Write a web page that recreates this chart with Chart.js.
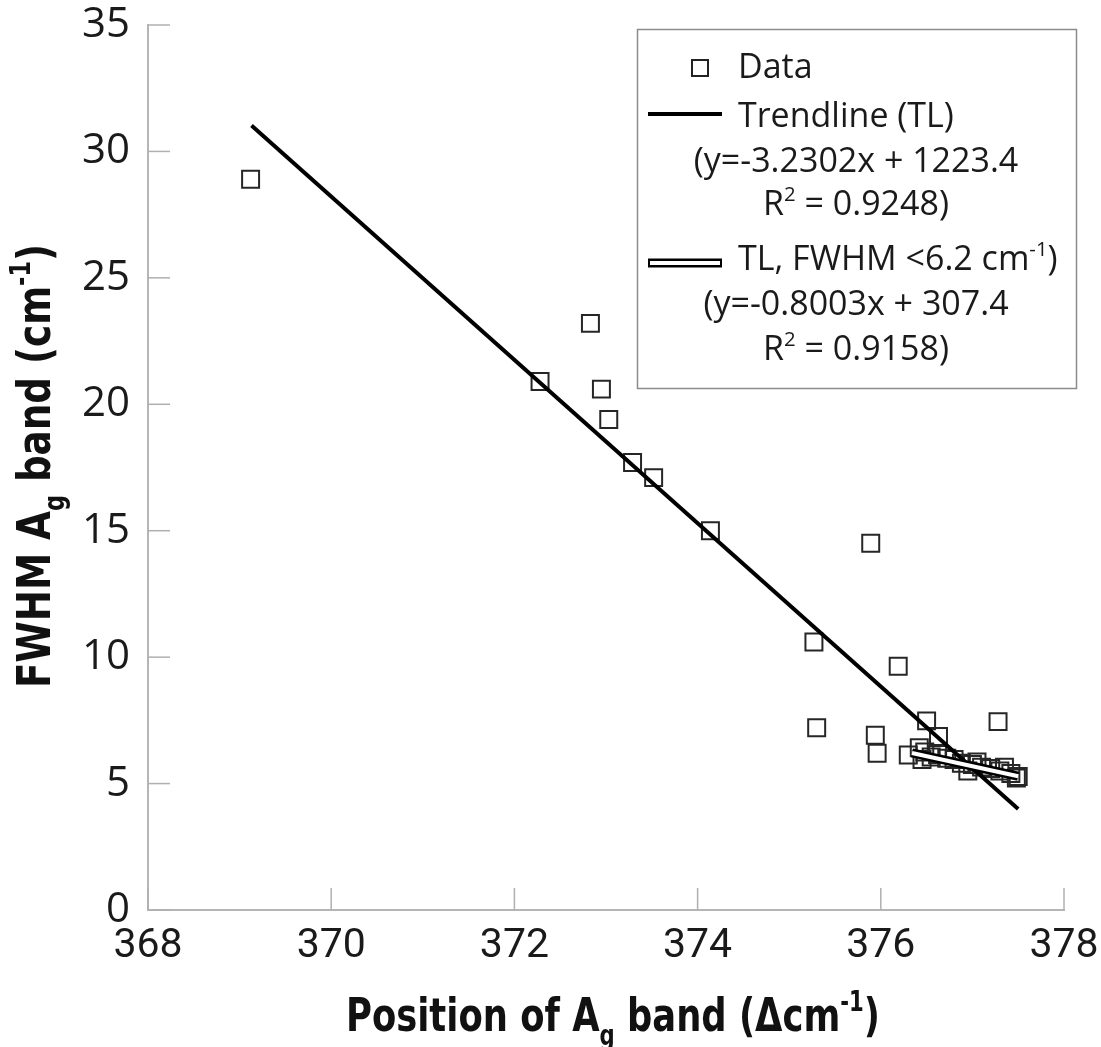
<!DOCTYPE html>
<html>
<head>
<meta charset="utf-8">
<script src="https://cdn.jsdelivr.net/npm/chart.js@4.4.0/dist/chart.umd.min.js"></script>
<style>
  body { margin: 0; background: #fff; }
  #wrap { width: 1101px; height: 1047px; }
</style>
</head>
<body>
<div id="wrap"><canvas id="fwhmChart"></canvas></div>
<script>
// measured points: position of Ag band vs FWHM
const positions = [369.12, 372.28, 372.83, 372.95, 373.03, 373.29, 373.52, 374.14, 375.27, 375.30,
  375.89, 375.94, 375.96, 376.19, 376.50, 376.63, 377.28,
  376.30, 376.42, 376.48, 376.55, 376.45, 376.62, 376.72, 376.80, 376.88, 376.95,
  377.00, 377.05, 377.10, 377.20, 377.30, 377.35, 377.42, 377.50, 377.48];
const fwhm = [28.9, 20.9, 23.2, 20.6, 19.4, 17.7, 17.1, 15.0, 10.6, 7.21,
  14.5, 6.91, 6.20, 9.64, 7.48, 6.86, 7.45,
  6.13, 6.42, 6.25, 6.05, 5.95, 6.15, 6.00, 5.95, 5.80, 5.50,
  5.75, 5.85, 5.65, 5.60, 5.50, 5.65, 5.40, 5.28, 5.22];

// trendline end points (all data, and FWHM < 6.2 only)
const trendX = [369.13, 377.50];
const trendY = [31.03, 3.99];
const trendLowX = [376.34, 377.50];
const trendLowY = [6.21, 5.29];

const xTicks = [368, 370, 372, 374, 376, 378];
const yTicks = [0, 5, 10, 15, 20, 25, 30, 35];

const toXY = (xs, ys) => xs.map((v, i) => ({ x: v, y: ys[i] }));

const TXT_FONT = "'Open Sans', 'DejaVu Sans', sans-serif";
const NARROW = "'Liberation Sans Narrow', 'DejaVu Sans Condensed', 'Liberation Sans', sans-serif";

// draws text made of runs ({t, sup, sub}) starting at x (or centred on x)
function drawRuns(ctx, runs, x, y, size, weight, family, center) {
  const fontOf = r => weight + ' ' + ((r.sup || r.sub) ? size * 0.6 : size) + 'px ' + family;
  let total = 0;
  runs.forEach(r => { ctx.font = fontOf(r); r.w = ctx.measureText(r.t).width; total += r.w; });
  let cx = center ? x - total / 2 : x;
  runs.forEach(r => {
    ctx.font = fontOf(r);
    let dy = 0;
    if (r.sup) dy = -size * 0.42;
    if (r.sub) dy = size * 0.3;
    ctx.fillText(r.t, cx, y + dy);
    cx += r.w;
  });
  return total;
}

function measureRuns(ctx, runs, size, weight, family) {
  let total = 0;
  runs.forEach(r => {
    ctx.font = weight + ' ' + ((r.sup || r.sub) ? size * 0.6 : size) + 'px ' + family;
    total += ctx.measureText(r.t).width;
  });
  return total;
}

// tick marks pointing into the plot
const innerTicks = {
  id: 'innerTicks',
  beforeDatasetsDraw(chart) {
    const { ctx, chartArea, scales: { x, y } } = chart;
    ctx.save();
    ctx.strokeStyle = '#b0b0b0';
    ctx.lineWidth = 1.5;
    x.ticks.forEach(t => {
      const px = x.getPixelForValue(t.value);
      ctx.beginPath(); ctx.moveTo(px, chartArea.bottom); ctx.lineTo(px, chartArea.bottom - 22); ctx.stroke();
    });
    y.ticks.forEach(t => {
      const py = y.getPixelForValue(t.value);
      ctx.beginPath(); ctx.moveTo(chartArea.left, py); ctx.lineTo(chartArea.left + 22, py); ctx.stroke();
    });
    ctx.restore();
  }
};

// axis titles with sub/superscripts
const axisTitles = {
  id: 'axisTitles',
  afterDraw(chart) {
    const ctx = chart.ctx;
    ctx.save();
    ctx.fillStyle = '#111';
    ctx.textBaseline = 'alphabetic';
    ctx.textAlign = 'left';

    const xRuns = [{ t: 'Position of A' }, { t: 'g', sub: true }, { t: ' band (Δcm' }, { t: '-1', sup: true }, { t: ')' }];
    const xw = measureRuns(ctx, xRuns, 47, 'bold', NARROW);
    ctx.save();
    ctx.translate(613, 1031);
    ctx.scale(534 / xw, 1);
    drawRuns(ctx, xRuns, 0, 0, 47, 'bold', NARROW, true);
    ctx.restore();

    const yRuns = [{ t: 'FWHM A' }, { t: 'g', sub: true }, { t: ' band (cm' }, { t: '-1', sup: true }, { t: ')' }];
    const yw = measureRuns(ctx, yRuns, 47, 'bold', NARROW);
    ctx.save();
    ctx.translate(50, 466);
    ctx.rotate(-Math.PI / 2);
    ctx.scale(444 / yw, 1);
    drawRuns(ctx, yRuns, 0, 0, 47, 'bold', NARROW, true);
    ctx.restore();

    ctx.restore();
  }
};

// boxed legend with the fit equations
const fitLegend = {
  id: 'fitLegend',
  afterDraw(chart) {
    const ctx = chart.ctx;
    ctx.save();
    ctx.fillStyle = '#fff';
    ctx.fillRect(637.5, 29.5, 439, 359);
    ctx.strokeStyle = '#8c8c8c';
    ctx.lineWidth = 1.5;
    ctx.strokeRect(637.5, 29.5, 439, 359);

    // Data marker
    ctx.strokeStyle = '#222';
    ctx.lineWidth = 2;
    ctx.strokeRect(692, 60, 16, 16);
    // trendline sample
    ctx.strokeStyle = '#000';
    ctx.lineWidth = 4;
    ctx.beginPath(); ctx.moveTo(648, 114); ctx.lineTo(722, 114); ctx.stroke();
    // double line sample
    ctx.lineWidth = 9;
    ctx.beginPath(); ctx.moveTo(648, 263); ctx.lineTo(722, 263); ctx.stroke();
    ctx.strokeStyle = '#fff';
    ctx.lineWidth = 4;
    ctx.beginPath(); ctx.moveTo(650, 263); ctx.lineTo(720, 263); ctx.stroke();

    ctx.fillStyle = '#1a1a1a';
    ctx.textBaseline = 'alphabetic';
    ctx.textAlign = 'left';
    const fs = 34;
    drawRuns(ctx, [{ t: 'Data' }], 738, 78, fs, 'normal', TXT_FONT, false);
    drawRuns(ctx, [{ t: 'Trendline (TL)' }], 738, 127, fs, 'normal', TXT_FONT, false);
    drawRuns(ctx, [{ t: '(y=-3.2302x + 1223.4' }], 856, 172, fs, 'normal', TXT_FONT, true);
    drawRuns(ctx, [{ t: 'R' }, { t: '2', sup: true }, { t: ' = 0.9248)' }], 856, 215, fs, 'normal', TXT_FONT, true);
    drawRuns(ctx, [{ t: 'TL, FWHM <6.2 cm' }, { t: '-1', sup: true }, { t: ')' }], 738, 270, fs, 'normal', TXT_FONT, false);
    drawRuns(ctx, [{ t: '(y=-0.8003x + 307.4' }], 856, 315, fs, 'normal', TXT_FONT, true);
    drawRuns(ctx, [{ t: 'R' }, { t: '2', sup: true }, { t: ' = 0.9158)' }], 856, 360, fs, 'normal', TXT_FONT, true);
    ctx.restore();
  }
};

const ctx = document.getElementById('fwhmChart').getContext('2d');
new Chart(ctx, {
  type: 'scatter',
  data: {
    datasets: [
      {
        label: 'Data',
        data: toXY(positions, fwhm),
        pointStyle: 'rect',
        pointRadius: 12,
        borderColor: '#262626',
        borderWidth: 2,
        backgroundColor: 'rgba(0,0,0,0)',
        order: 4
      },
      {
        label: 'Trendline (TL)',
        data: toXY(trendX, trendY),
        showLine: true,
        pointRadius: 0,
        borderColor: '#000',
        borderWidth: 4,
        order: 3
      },
      {
        label: 'TL, FWHM <6.2 cm-1 (outline)',
        data: toXY(trendLowX, trendLowY),
        showLine: true,
        pointRadius: 0,
        borderColor: '#000',
        borderWidth: 9,
        order: 2
      },
      {
        label: 'TL, FWHM <6.2 cm-1',
        data: toXY(trendLowX, trendLowY),
        showLine: true,
        pointRadius: 0,
        borderColor: '#fff',
        borderWidth: 4,
        order: 1
      }
    ]
  },
  options: {
    responsive: true,
    maintainAspectRatio: false,
    animation: false,
    layout: { padding: { top: 25, right: 37, left: 0, bottom: 0 } },
    plugins: { legend: { display: false }, tooltip: { enabled: false } },
    scales: {
      x: {
        type: 'linear',
        min: 368, max: 378,
        afterBuildTicks: s => { s.ticks = xTicks.map(v => ({ value: v })); },
        afterFit: s => { s.height = 137; s.paddingLeft = 0; s.paddingRight = 0; },
        grid: { display: false },
        border: { color: '#b5b5b5', width: 2 },
        ticks: {
          color: '#1a1a1a', padding: 4, maxRotation: 0, autoSkip: false,
          font: { family: "Roboto, 'Liberation Sans', sans-serif", size: 41 }
        }
      },
      y: {
        type: 'linear',
        min: 0, max: 35,
        afterBuildTicks: s => { s.ticks = yTicks.map(v => ({ value: v })); },
        afterFit: s => { s.width = 148; s.paddingTop = 0; s.paddingBottom = 0; },
        grid: { display: false },
        border: { color: '#b5b5b5', width: 2 },
        ticks: {
          color: '#1a1a1a', padding: 10,
          font: { family: TXT_FONT, size: 42 }
        }
      }
    }
  },
  plugins: [innerTicks, axisTitles, fitLegend]
});
</script>
</body>
</html>
